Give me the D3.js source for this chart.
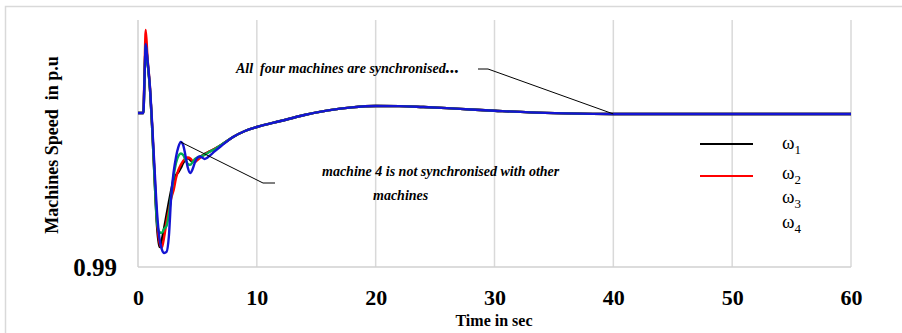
<!DOCTYPE html>
<html>
<head>
<meta charset="utf-8">
<script src="https://cdn.jsdelivr.net/npm/d3@7"></script>
<style>
  body { margin: 0; background: #fff; }
  svg { display: block; }
  svg text { white-space: pre; }
</style>
</head>
<body>
<svg id="chart" width="902" height="333"></svg>
<script>
// Simulation time (s)
const time = [0, 0.45, 0.55, 0.65, 0.8, 1.0, 1.2, 1.4, 1.6, 1.8, 2.0, 2.2, 2.4, 2.6, 2.8,
  3.0, 3.2, 3.4, 3.6, 3.8, 4.0, 4.2, 4.4, 4.6, 4.8, 5.0, 5.2, 5.4, 5.6, 5.8, 6.0, 6.5,
  7, 8, 9, 10, 12, 14, 16, 18, 20, 22, 24, 26, 28, 30, 33, 36, 40, 45, 50, 55, 60];

// Machine speeds (p.u.)
const omega1 = [1.00003, 1.00003, 1.00231, 1.00446, 1.00336, 1.00166, 0.99893, 0.99567, 0.99267,
  0.99130, 0.99176, 0.99254, 0.99339, 0.99423, 0.99502, 0.99567, 0.99599, 0.99619, 0.99645,
  0.99678, 0.99697, 0.99710, 0.99697, 0.99684, 0.99691, 0.99704, 0.99717, 0.99726, 0.99736,
  0.99743, 0.99752, 0.99772,
  0.99795, 0.99847, 0.99886, 0.99912, 0.99951, 0.99990, 1.00020, 1.00040, 1.00049, 1.00048,
  1.00042, 1.00035, 1.00026, 1.00018, 1.00007, 1.00001, 0.99997, 0.99997, 0.99997, 0.99997, 0.99997];

const omega2 = [1.00003, 1.00003, 1.00283, 1.00544, 1.00362, 1.00179, 0.99906, 0.99593, 0.99306,
  0.99163, 0.99124, 0.99195, 0.99293, 0.99371, 0.99450, 0.99502, 0.99580, 0.99632, 0.99665,
  0.99691, 0.99707, 0.99713, 0.99707, 0.99691, 0.99684, 0.99697, 0.99710, 0.99723, 0.99733,
  0.99743, 0.99752, 0.99772,
  0.99795, 0.99847, 0.99886, 0.99912, 0.99951, 0.99990, 1.00020, 1.00040, 1.00049, 1.00048,
  1.00042, 1.00035, 1.00026, 1.00018, 1.00007, 1.00001, 0.99997, 0.99997, 0.99997, 0.99997, 0.99997];

const omega3 = [1.00003, 1.00003, 1.00231, 1.00446, 1.00336, 1.00166, 0.99893, 0.99567, 0.99293,
  0.99228, 0.99222, 0.99248, 0.99267, 0.99345, 0.99469, 0.99593, 0.99678, 0.99723, 0.99739,
  0.99730, 0.99697, 0.99671, 0.99665, 0.99684, 0.99704, 0.99713, 0.99717, 0.99723, 0.99730,
  0.99739, 0.99749, 0.99769,
  0.99795, 0.99847, 0.99886, 0.99912, 0.99951, 0.99990, 1.00020, 1.00040, 1.00049, 1.00048,
  1.00042, 1.00035, 1.00026, 1.00018, 1.00007, 1.00001, 0.99997, 0.99997, 0.99997, 0.99997, 0.99997];

const omega4 = [1.00003, 1.00003, 1.00231, 1.00453, 1.00349, 1.00179, 0.99919, 0.99632, 0.99358,
  0.99189, 0.99117, 0.99091, 0.99098, 0.99202, 0.99469, 0.99619, 0.99717, 0.99782, 0.99814,
  0.99795, 0.99723, 0.99645, 0.99612, 0.99638, 0.99684, 0.99713, 0.99720, 0.99713, 0.99704,
  0.99710, 0.99723, 0.99756,
  0.99788, 0.99847, 0.99886, 0.99912, 0.99951, 0.99990, 1.00020, 1.00040, 1.00049, 1.00048,
  1.00042, 1.00035, 1.00026, 1.00018, 1.00007, 1.00001, 0.99997, 0.99997, 0.99997, 0.99997, 0.99997];

const seriesSubscripts = ["1", "2", "3", "4"];
const seriesColors = ["#000000", "#ff0000", "#00b050", "#1414d2"];
const legendSwatch = [true, true, false, false];

const xTicks = [0, 10, 20, 30, 40, 50, 60];
const yTicks = [0.99];

const xTitle = "Time in sec";
const yTitle = "Machines Speed  in p.u";
const noteSync = "All  four machines are synchronised";
const noteDesyncLine1 = "machine 4 is not synchronised with other";
const noteDesyncLine2 = "machines";
const syncTime = 40;     // curves settle together here
const desyncTime = 3.6;  // first swing peak of machine 4

const series = [omega1, omega2, omega3, omega4];

const svg = d3.select("#chart");
const W = 902, H = 333;
const plot = { left: 138, right: 851, top: 20, bottom: 267 };
const serif = "'Liberation Serif', 'Times New Roman', serif";

const x = d3.scaleLinear().domain([0, 60]).range([plot.left, plot.right]);
const y = d3.scaleLinear().domain([0.99, 1.00609]).range([plot.bottom, plot.top]);

// outer frame
svg.append("rect")
  .attr("x", 5.5).attr("y", 6.5)
  .attr("width", W + 20).attr("height", H + 20)
  .attr("fill", "none").attr("stroke", "#d9d9d9").attr("stroke-width", 1.5);

// vertical gridlines
svg.append("g").selectAll("line")
  .data(xTicks.filter(d => d > 0))
  .join("line")
  .attr("x1", d => x(d)).attr("x2", d => x(d))
  .attr("y1", plot.top).attr("y2", plot.bottom)
  .attr("stroke", "#d9d9d9").attr("stroke-width", 1.5);

// axis lines
svg.append("line")
  .attr("x1", x(0)).attr("x2", x(0)).attr("y1", plot.top).attr("y2", plot.bottom)
  .attr("stroke", "#d0d0d0").attr("stroke-width", 1.5);
svg.append("line")
  .attr("x1", x(0)).attr("x2", x(60)).attr("y1", plot.bottom).attr("y2", plot.bottom)
  .attr("stroke", "#d0d0d0").attr("stroke-width", 1.5);

// x axis labels
const xAxis = svg.append("g")
  .attr("transform", `translate(0,${plot.bottom})`)
  .call(d3.axisBottom(x).tickValues(xTicks).tickSize(0).tickPadding(22).tickFormat(d3.format("d")));
xAxis.select(".domain").remove();
xAxis.selectAll("text")
  .attr("font-family", serif)
  .attr("font-weight", "bold").attr("font-size", 22).attr("fill", "#000");

// y axis label
const yAxis = svg.append("g")
  .attr("transform", `translate(${plot.left},0)`)
  .call(d3.axisLeft(y).tickValues(yTicks).tickSize(0).tickPadding(21).tickFormat(d3.format(".2f")));
yAxis.select(".domain").remove();
yAxis.selectAll("text")
  .attr("font-family", serif)
  .attr("font-weight", "bold").attr("font-size", 25).attr("fill", "#000");

// axis titles
svg.append("text")
  .attr("x", 494).attr("y", 326)
  .attr("text-anchor", "middle")
  .attr("font-family", serif)
  .attr("font-weight", "bold").attr("font-size", 16)
  .text(xTitle);

svg.append("text")
  .attr("transform", "translate(58,145) rotate(-90)")
  .attr("text-anchor", "middle")
  .attr("font-family", serif)
  .attr("font-weight", "bold").attr("font-size", 18)
  .text(yTitle);

// speed curves
const line = d3.line()
  .x((d, i) => x(time[i]))
  .y(d => y(d))
  .curve(d3.curveMonotoneX);

svg.append("g").selectAll("path")
  .data(series)
  .join("path")
  .attr("d", d => line(d))
  .attr("fill", "none")
  .attr("stroke", (d, i) => seriesColors[i])
  .attr("stroke-width", 2.4)
  .attr("stroke-linejoin", "round");

// legend
const legend = svg.append("g");
const legendY = [144, 174, 198, 223];
const swatchY = [144, 176];
seriesSubscripts.forEach((s, i) => {
  if (legendSwatch[i]) {
    legend.append("line")
      .attr("x1", 700).attr("x2", 753)
      .attr("y1", swatchY[i]).attr("y2", swatchY[i])
      .attr("stroke", seriesColors[i]).attr("stroke-width", 2);
  }
  const t = legend.append("text")
    .attr("x", 782).attr("y", legendY[i] + 5)
    .attr("font-family", serif)
    .attr("font-size", 19).attr("fill", "#000");
  t.append("tspan").text("ω");
  t.append("tspan").attr("font-size", 13).attr("dy", 5).text(s);
});

// annotations
const syncIdx = time.indexOf(syncTime);
const desyncIdx = time.indexOf(desyncTime);
const syncPt = [x(syncTime), y(omega1[syncIdx])];
const desyncPt = [x(desyncTime), y(omega4[desyncIdx])];

const n1 = svg.append("text")
  .attr("x", 236).attr("y", 73)
  .attr("font-family", serif).attr("font-style", "italic").attr("font-weight", "bold")
  .attr("font-size", 14).attr("fill", "#000");
n1.append("tspan").text(noteSync);
n1.append("tspan").attr("font-size", 18).text("...");

svg.append("polyline")
  .attr("points", [[478, 69], [488, 69], syncPt].map(p => p.join(",")).join(" "))
  .attr("fill", "none").attr("stroke", "#000").attr("stroke-width", 1);

svg.append("text")
  .attr("x", 322).attr("y", 176)
  .attr("font-family", serif).attr("font-style", "italic").attr("font-weight", "bold")
  .attr("font-size", 14).attr("fill", "#000")
  .text(noteDesyncLine1);
svg.append("text")
  .attr("x", 373).attr("y", 200)
  .attr("font-family", serif).attr("font-style", "italic").attr("font-weight", "bold")
  .attr("font-size", 14).attr("fill", "#000")
  .text(noteDesyncLine2);

svg.append("polyline")
  .attr("points", [desyncPt, [263, 183], [275, 183]].map(p => p.join(",")).join(" "))
  .attr("fill", "none").attr("stroke", "#000").attr("stroke-width", 1);
</script>
</body>
</html>
